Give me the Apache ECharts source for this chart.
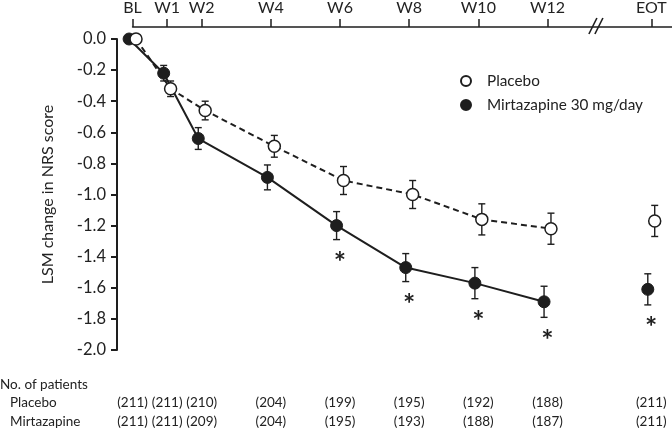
<!DOCTYPE html>
<html><head><meta charset="utf-8">
<script src="https://cdn.jsdelivr.net/npm/echarts@6/dist/echarts.min.js"></script>
<style>html,body{margin:0;padding:0;background:#fff}#c{width:672px;height:429px}</style>
</head><body><div id="c"></div>
<script>
// ---- data ----
const weeks = [0, 1, 2, 4, 6, 8, 10, 12, 15];           // 15 = EOT position after axis break
const timeLabels = ['BL', 'W1', 'W2', 'W4', 'W6', 'W8', 'W10', 'W12', 'EOT'];
const placeboMean = [0, -0.32, -0.46, -0.69, -0.91, -1.00, -1.16, -1.22, -1.17];
const placeboSE   = [0, 0.05, 0.06, 0.07, 0.09, 0.09, 0.10, 0.10, 0.10];
const mirtMean    = [0, -0.22, -0.64, -0.89, -1.20, -1.47, -1.57, -1.69, -1.61];
const mirtSE      = [0, 0.05, 0.07, 0.08, 0.09, 0.09, 0.10, 0.10, 0.10];
const significant = [false, false, false, false, true, true, true, true, true];
const placeboN = [211, 211, 210, 204, 199, 195, 192, 188, 211];
const mirtN    = [211, 211, 209, 204, 195, 193, 188, 187, 211];
const yMin = -2.0, yMax = 0.0, yStep = 0.2;
const breakWeek = 13.4;   // axis break position ("//")

// ---- layout / style ----
const FONT = 'Lato';
const INK = '#1e1e1e';
const TXT = '#222';
const xMin = -0.45, xMax = 15.6;
const dodge = 0.1;
const W = 672, gridLeft = 117, gridTop = 39, gridBottomY = 350;
const scale = (W - gridLeft) / (xMax - xMin);
const topGridLeft = gridLeft + (0 - xMin) * scale;

const chart = echarts.init(document.getElementById('c'), null, {renderer: 'canvas'});

const mainIdx = weeks.map((w, i) => i).filter(i => weeks[i] < breakWeek);
const afterIdx = weeks.map((w, i) => i).filter(i => weeks[i] > breakWeek);

function pts(mean, off, idx) { return idx.map(i => [weeks[i] + off, mean[i]]); }

function errSeries(mean, se, off) {
  return {
    type: 'custom', xAxisIndex: 0, yAxisIndex: 0, z: 1, silent: true,
    data: weeks.map((w, i) => [w + off, mean[i] - se[i], mean[i] + se[i]]).filter(d => d[2] - d[1] > 0),
    renderItem: (params, api) => {
      const x = api.value(0);
      const p1 = api.coord([x, api.value(2)]);
      const p2 = api.coord([x, api.value(1)]);
      const cw = 3.5;
      const st = {stroke: INK, lineWidth: 1.4};
      return {type: 'group', children: [
        {type: 'line', shape: {x1: p1[0], y1: p1[1], x2: p2[0], y2: p2[1]}, style: st},
        {type: 'line', shape: {x1: p1[0] - cw, y1: p1[1], x2: p1[0] + cw, y2: p1[1]}, style: st},
        {type: 'line', shape: {x1: p2[0] - cw, y1: p2[1], x2: p2[0] + cw, y2: p2[1]}, style: st}
      ]};
    }
  };
}

const placeboStyle = {color: '#fff', borderColor: INK, borderWidth: 1.5, opacity: 1};
const mirtStyle = {color: INK, borderColor: INK, borderWidth: 1, opacity: 1};

const option = {
  animation: false,
  backgroundColor: '#fff',
  textStyle: {fontFamily: FONT},
  grid: [
    {left: gridLeft, right: 0, top: gridTop, height: gridBottomY - gridTop},
    {left: topGridLeft, right: 0, top: 26, height: 10}
  ],
  xAxis: [
    {gridIndex: 0, type: 'value', min: xMin, max: xMax, show: false},
    {gridIndex: 1, type: 'value', position: 'top', min: 0, max: xMax,
     axisLine: {show: true, onZero: false, lineStyle: {color: INK, width: 1.5}},
     axisTick: {show: true, length: 8, lineStyle: {color: INK, width: 1.5}, customValues: weeks},
     axisLabel: {show: true, margin: 11, fontFamily: FONT, fontSize: 16, color: TXT, customValues: weeks,
                 formatter: v => { const i = weeks.indexOf(v); return i >= 0 ? timeLabels[i] : ''; }},
     splitLine: {show: false}}
  ],
  yAxis: [
    {gridIndex: 0, type: 'value', min: yMin, max: yMax, interval: yStep,
     name: 'LSM change in NRS score', nameLocation: 'middle', nameGap: 61,
     nameTextStyle: {fontFamily: FONT, fontSize: 16, color: TXT},
     axisLine: {show: true, onZero: false, lineStyle: {color: INK, width: 2}},
     axisTick: {show: true, length: 6, lineStyle: {color: INK, width: 2}},
     axisLabel: {margin: 11, fontFamily: FONT, fontSize: 16.5, color: TXT, formatter: v => v.toFixed(1)},
     splitLine: {show: false}},
    {gridIndex: 1, type: 'value', show: false}
  ],
  legend: {
    data: ['Placebo', 'Mirtazapine 30 mg/day'],
    orient: 'vertical', left: 455, top: 67, icon: 'circle',
    itemWidth: 10, itemHeight: 10, itemGap: 6,
    textStyle: {fontFamily: FONT, fontSize: 15.3, color: TXT, padding: [0, 0, 0, 11], lineHeight: 18}
  },
  series: [
    errSeries(mirtMean, mirtSE, -dodge),
    errSeries(placeboMean, placeboSE, dodge),
    {name: 'Mirtazapine 30 mg/day', type: 'line', xAxisIndex: 0, yAxisIndex: 0, z: 3,
     data: pts(mirtMean, -dodge, mainIdx), symbol: 'circle', symbolSize: 12,
     lineStyle: {color: INK, width: 2}, itemStyle: mirtStyle},
    {name: 'Mirtazapine 30 mg/day', type: 'scatter', xAxisIndex: 0, yAxisIndex: 0, z: 3,
     data: pts(mirtMean, -dodge, afterIdx), symbol: 'circle', symbolSize: 12, itemStyle: mirtStyle},
    {name: 'Placebo', type: 'line', xAxisIndex: 0, yAxisIndex: 0, z: 4,
     data: pts(placeboMean, dodge, mainIdx), symbol: 'circle', symbolSize: 12,
     lineStyle: {color: INK, width: 2, type: [6, 4]}, itemStyle: placeboStyle},
    {name: 'Placebo', type: 'scatter', xAxisIndex: 0, yAxisIndex: 0, z: 4,
     data: pts(placeboMean, dodge, afterIdx), symbol: 'circle', symbolSize: 12, itemStyle: placeboStyle},
    {type: 'scatter', xAxisIndex: 0, yAxisIndex: 0, z: 5, silent: true,
     data: weeks.map((w, i) => [w, mirtMean[i] - mirtSE[i]]).filter((d, i) => significant[i]),
     symbol: 'circle', symbolSize: 1, itemStyle: {color: 'rgba(0,0,0,0)', opacity: 1},
     label: {show: true, formatter: '*', position: 'inside', offset: [0, 23],
             fontFamily: FONT, fontSize: 29, fontWeight: 'bold', color: INK}}
  ]
};
chart.setOption(option);

// table of patient counts + axis break, positioned through the axis scale
const px = w => chart.convertToPixel({xAxisIndex: 0}, w);
const tableFont = '13.5px ' + FONT;
const g = [];
g.push({type: 'text', x: 0, y: 385, style: {text: 'No. of patients', font: tableFont, fill: TXT, verticalAlign: 'middle'}});
g.push({type: 'text', x: 10, y: 403, style: {text: 'Placebo', font: tableFont, fill: TXT, verticalAlign: 'middle'}});
g.push({type: 'text', x: 10, y: 421.5, style: {text: 'Mirtazapine', font: tableFont, fill: TXT, verticalAlign: 'middle'}});
weeks.forEach((w, i) => {
  const x = px(w);
  g.push({type: 'text', x: x, y: 403, style: {text: '(' + placeboN[i] + ')', font: tableFont, fill: TXT, align: 'center', verticalAlign: 'middle'}});
  g.push({type: 'text', x: x, y: 421.5, style: {text: '(' + mirtN[i] + ')', font: tableFont, fill: TXT, align: 'center', verticalAlign: 'middle'}});
});
const bx = chart.convertToPixel({xAxisIndex: 1}, breakWeek);
[-3, 3].forEach(d => {
  g.push({type: 'line', shape: {x1: bx + d - 4, y1: 34, x2: bx + d + 4, y2: 18}, style: {stroke: INK, lineWidth: 1.6}, z: 10});
});
chart.setOption({graphic: g});
</script>
</body></html>
